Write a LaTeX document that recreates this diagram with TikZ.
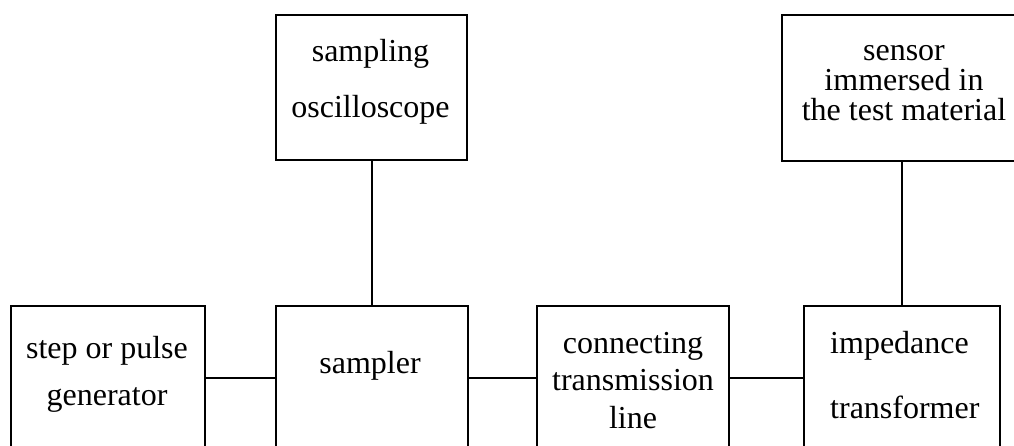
\documentclass[tikz,border=0pt]{standalone}
\usepackage{fontspec}
\setmainfont{Liberation Serif}
\begin{document}
\begin{tikzpicture}[x=1pt,y=-1pt,
  box/.style={draw, line width=1.6pt, inner sep=0pt, anchor=north west},
  lbl/.style={inner sep=0pt, anchor=base, align=center},
  wire/.style={line width=1.6pt}]
\useasboundingbox (0,0) rectangle (1014,446);
\clip (0,0) rectangle (1014,446);
% boxes
\node[box, minimum width=194pt, minimum height=144pt] (gen) at (10,305) {};
\node[box, minimum width=192pt, minimum height=144pt] (smp) at (275,305) {};
\node[box, minimum width=192pt, minimum height=144pt] (con) at (536,305) {};
\node[box, minimum width=196pt, minimum height=144pt] (imp) at (803,305) {};
\node[box, minimum width=191pt, minimum height=145pt] (osc) at (275,14) {};
\node[box, minimum width=246pt, minimum height=146pt] (sen) at (781,14) {};
% texts (anchored at the baseline of the last line)
\node[lbl, font=\fontsize{32}{47}\selectfont] (gent) at (107,405) {step or pulse\\generator};
\node[lbl, font=\fontsize{32}{40}\selectfont] (smpt) at (370,373) {sampler};
\node[lbl, font=\fontsize{32}{37.5}\selectfont] (cont) at (633,428) {connecting\\transmission\\line};
\node[lbl, align=left, anchor=base west, font=\fontsize{32}{65}\selectfont] (impt) at (830,418) {impedance\\transformer};
\node[lbl, font=\fontsize{32}{56}\selectfont] (osct) at (370.5,118) {sampling\\oscilloscope};
\node[lbl, font=\fontsize{32}{30}\selectfont] (sent) at (904,121) {sensor\\immersed in\\the test material};
% connectors
\draw[wire] (gen.east) -- (smp.west);
\draw[wire] (smp.east) -- (con.west);
\draw[wire] (con.east) -- (imp.west);
\draw[wire] (smp.north) -- (smp.north |- osc.south);
\draw[wire] (imp.north) -- (imp.north |- sen.south);
\end{tikzpicture}
\end{document}
